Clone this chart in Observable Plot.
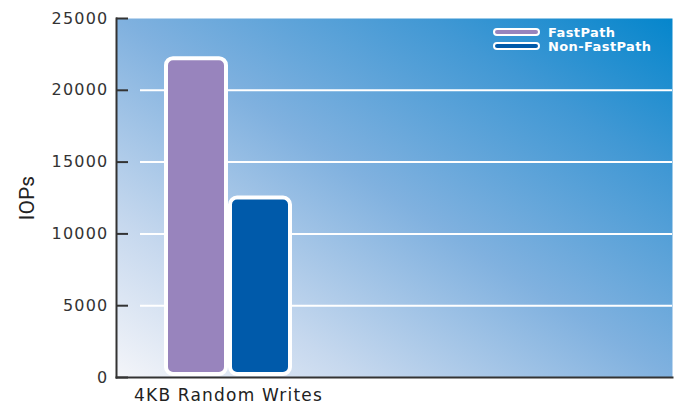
<!DOCTYPE html>
<html>
<head>
<meta charset="utf-8">
<script src="https://cdn.jsdelivr.net/npm/d3@7"></script>
<script src="https://cdn.jsdelivr.net/npm/@observablehq/plot@0.6"></script>
<style>
  html, body { margin: 0; padding: 0; background: #fff; }
  #wrap { position: relative; width: 680px; height: 407px; font-family: "DejaVu Sans", sans-serif; }
  #legend { position: absolute; left: 493px; top: 25px; color: #fff; font: bold 13px "DejaVu Sans", sans-serif; letter-spacing: 0.4px; }
  .row { display: flex; align-items: center; height: 14px; }
  .sw { width: 43px; height: 4px; border: 2px solid #fff; border-radius: 4px; margin-right: 8px; }
</style>
</head>
<body>
<div id="wrap"></div>
<script>
const category = "4KB Random Writes";
const series = ["FastPath", "Non-FastPath"];
const values = [22200, 12500];
const colors = ["#9884bd", "#005aaa"];
const yTicks = [0, 5000, 10000, 15000, 20000, 25000];
const gridTicks = [5000, 10000, 15000, 20000];

const data = series.map((s, i) => ({series: s, value: values[i], category}));

const W = 680, H = 407, mL = 116, mR = 8, mT = 18, mB = 30;
const plotW = W - mL - mR;
const step = 64, pInner = 0.0625;
const pOuter = (plotW / step - (series.length - pInner)) / 2;
const align = 50 / (plotW - step * (series.length - pInner));

const chart = Plot.plot({
  width: W, height: H,
  marginLeft: mL, marginRight: mR, marginTop: mT, marginBottom: mB,
  style: {fontFamily: "DejaVu Sans, sans-serif", color: "#333", background: "transparent"},
  x: {domain: series, paddingInner: pInner, paddingOuter: pOuter, align, axis: null},
  y: {domain: [0, 25000], axis: null},
  color: {domain: series, range: colors},
  marks: [
    Plot.frame({fill: "url(#bggrad)", stroke: "none"}),
    Plot.ruleY(gridTicks, {stroke: "#fff", strokeWidth: 2, insetLeft: 24}),
    Plot.barY(data, {x: "series", y: "value", fill: "series", stroke: "#fff", strokeWidth: 4, rx: 7, insetBottom: 3}),
    Plot.axisY(yTicks, {tickSize: -12, tickPadding: 20, strokeWidth: 2, stroke: "#333", fontSize: 16, tickFormat: d => String(d), fill: "#333",
      label: "IOPs", labelAnchor: "center", labelOffset: 97, labelArrow: "none"}),
    Plot.axisX([series[0]], {tickSize: 0, tickPadding: 11, fontSize: 17, fill: "#222", dx: step / 2, tickFormat: () => category, label: null}),
    Plot.frame({anchor: "left", stroke: "#333", strokeWidth: 2}),
    Plot.frame({anchor: "bottom", stroke: "#333", strokeWidth: 2})
  ]
});

const ns = "http://www.w3.org/2000/svg";
const defs = document.createElementNS(ns, "defs");
const grad = document.createElementNS(ns, "linearGradient");
grad.setAttribute("id", "bggrad");
grad.setAttribute("x1", "0"); grad.setAttribute("y1", "1");
grad.setAttribute("x2", "1"); grad.setAttribute("y2", "0");
[["0", "#f4f5f9"], ["0.22", "#c6d8ee"], ["0.5", "#80b1df"], ["0.78", "#4198d4"], ["1", "#0586cc"]].forEach(([o, c]) => {
  const s = document.createElementNS(ns, "stop");
  s.setAttribute("offset", o); s.setAttribute("stop-color", c);
  grad.appendChild(s);
});
defs.appendChild(grad);
chart.insertBefore(defs, chart.firstChild);

// letter spacing for tick text to mimic the reference typeface
chart.querySelectorAll('[aria-label="y-axis tick label"] text').forEach(t => t.setAttribute("letter-spacing", "1.2"));
chart.querySelectorAll('[aria-label="x-axis tick label"] text').forEach(t => t.setAttribute("letter-spacing", "1.2"));
chart.querySelectorAll('[aria-label="y-axis label"] text').forEach(t => {
  t.style.fontSize = "21px";
  t.style.fontFamily = '"Liberation Sans Narrow", "Roboto", sans-serif';
  t.setAttribute("fill", "#222");
});

const wrap = document.getElementById("wrap");
wrap.appendChild(chart);

const legend = document.createElement("div");
legend.id = "legend";
series.forEach((s, i) => {
  const row = document.createElement("div");
  row.className = "row";
  const sw = document.createElement("div");
  sw.className = "sw";
  sw.style.background = colors[i];
  const lab = document.createElement("span");
  lab.textContent = s;
  row.appendChild(sw); row.appendChild(lab);
  legend.appendChild(row);
});
wrap.appendChild(legend);
</script>
</body>
</html>
